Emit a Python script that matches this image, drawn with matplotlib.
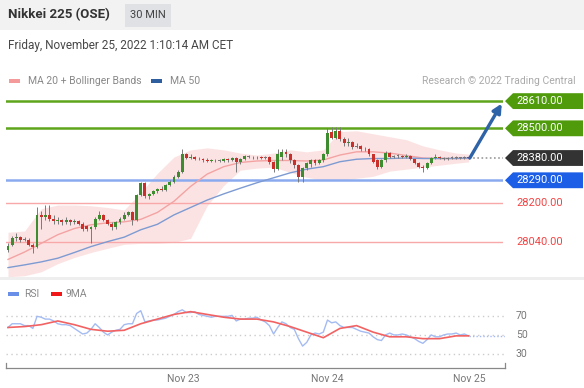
import matplotlib
matplotlib.use("Agg")
import matplotlib.pyplot as plt
import matplotlib.transforms as mtransforms
from matplotlib.patches import Polygon, Rectangle
import numpy as np

plt.rcParams['font.family'] = ['Roboto', 'DejaVu Sans']

# ---------------- data ----------------
opens = [28010, 28030, 28055, 28060, 28050, 28050, 28030, 28020, 28150, 28140,
         28150, 28135, 28125, 28130, 28120, 28130, 28120, 28125, 28115, 28105,
         28095, 28100, 28135, 28150, 28130, 28115, 28100, 28120, 28135, 28150,
         28160, 28130, 28230, 28280, 28225, 28235, 28245, 28255, 28250, 28270,
         28285, 28305, 28325, 28395, 28380, 28385, 28375, 28378, 28372, 28368,
         28372, 28370, 28368, 28375, 28370, 28380, 28365, 28375, 28388, 28385,
         28383, 28386, 28382, 28385, 28365, 28335, 28385, 28405, 28395, 28370,
         28350, 28305, 28340, 28355, 28370, 28360, 28370, 28395, 28485, 28460,
         28490, 28455, 28440, 28445, 28425, 28428, 28415, 28418, 28395, 28370,
         28345, 28370, 28400, 28385, 28388, 28390, 28386, 28388, 28375, 28360,
         28345, 28340, 28360, 28380, 28385, 28380, 28377, 28380, 28383, 28380,
         28382, 28385]
highs = [28035, 28065, 28075, 28065, 28060, 28055, 28035, 28180, 28165, 28190,
         28190, 28150, 28140, 28135, 28140, 28135, 28135, 28130, 28120, 28110,
         28105, 28140, 28165, 28155, 28135, 28120, 28125, 28140, 28160, 28165,
         28165, 28235, 28285, 28285, 28240, 28250, 28260, 28265, 28275, 28290,
         28310, 28330, 28415, 28400, 28395, 28390, 28385, 28382, 28380, 28378,
         28378, 28376, 28382, 28380, 28385, 28385, 28380, 28392, 28392, 28390,
         28390, 28390, 28390, 28388, 28368, 28415, 28415, 28415, 28400, 28375,
         28355, 28345, 28365, 28375, 28375, 28375, 28400, 28500, 28505, 28505,
         28505, 28465, 28460, 28450, 28440, 28432, 28425, 28420, 28398, 28375,
         28375, 28410, 28405, 28392, 28395, 28394, 28395, 28392, 28378, 28365,
         28350, 28365, 28385, 28395, 28390, 28386, 28385, 28388, 28388, 28386,
         28388, 28388]
lows = [28000, 28025, 28045, 28040, 28045, 28025, 27995, 28015, 28095, 28130,
        28125, 28115, 28115, 28110, 28115, 28110, 28112, 28108, 28085, 28085,
        28035, 28095, 28130, 28125, 28110, 28090, 28095, 28115, 28130, 28145,
        28110, 28125, 28225, 28220, 28215, 28230, 28240, 28245, 28245, 28265,
        28280, 28300, 28320, 28375, 28375, 28370, 28370, 28365, 28362, 28362,
        28365, 28362, 28365, 28365, 28366, 28322, 28355, 28370, 28380, 28378,
        28378, 28376, 28378, 28355, 28325, 28330, 28370, 28385, 28360, 28340,
        28282, 28285, 28330, 28345, 28352, 28355, 28365, 28390, 28455, 28455,
        28450, 28430, 28430, 28415, 28420, 28410, 28410, 28390, 28360, 28335,
        28340, 28365, 28380, 28380, 28382, 28380, 28382, 28370, 28355, 28340,
        28325, 28335, 28355, 28375, 28375, 28372, 28372, 28375, 28375, 28376,
        28376, 28374]
closes = [28025, 28055, 28060, 28050, 28052, 28030, 28020, 28150, 28140, 28150,
          28135, 28125, 28130, 28120, 28130, 28120, 28125, 28115, 28095, 28095,
          28100, 28135, 28150, 28130, 28115, 28100, 28120, 28135, 28150, 28160,
          28130, 28230, 28280, 28225, 28235, 28245, 28255, 28250, 28270, 28285,
          28305, 28325, 28395, 28380, 28385, 28375, 28378, 28370, 28368, 28372,
          28370, 28368, 28375, 28370, 28380, 28365, 28375, 28388, 28385, 28383,
          28386, 28382, 28385, 28365, 28335, 28395, 28405, 28395, 28370, 28350,
          28305, 28340, 28360, 28370, 28360, 28370, 28395, 28480, 28460, 28490,
          28455, 28440, 28445, 28425, 28428, 28415, 28418, 28395, 28365, 28345,
          28370, 28400, 28385, 28388, 28390, 28386, 28390, 28375, 28360, 28345,
          28340, 28360, 28380, 28385, 28380, 28377, 28380, 28383, 28380, 28382,
          28385, 28380]

# indicator samples (bar index -> value)
ind_idx = [0, 4, 8, 12, 16, 20, 24, 28, 32, 36, 40, 44, 48, 52, 56, 60, 64, 68,
           72, 76, 80, 84, 88, 92, 96, 100, 104, 108, 111]
ma50 = [27937, 27948, 27960, 27975, 27998, 28022, 28042, 28060, 28090, 28112,
        28150, 28180, 28210, 28235, 28258, 28280, 28300, 28320, 28335, 28345,
        28365, 28375, 28378, 28378, 28380, 28378, 28378, 28378, 28380]
ma20 = [27970, 28000, 28035, 28070, 28095, 28110, 28118, 28122, 28132, 28160,
        28205, 28265, 28315, 28345, 28362, 28368, 28370, 28370, 28368, 28372,
        28392, 28405, 28405, 28400, 28390, 28380, 28378, 28378, 28378]
bb_upper = [28080, 28085, 28175, 28190, 28190, 28187, 28180, 28170, 28240, 28318,
            28384, 28413, 28421, 28413, 28400, 28392, 28400, 28413, 28405, 28413,
            28487, 28490, 28478, 28466, 28454, 28429, 28413, 28400, 28396]
bb_lower = [27900, 27904, 27920, 27953, 27978, 27998, 28015, 28031, 28035, 28035,
            28039, 28055, 28187, 28269, 28331, 28339, 28343, 28322, 28302, 28290,
            28290, 28298, 28306, 28327, 28335, 28343, 28351, 28359, 28364]

rsi = [58, 62, 62, 62, 60, 60, 57, 70, 69, 67, 67, 65, 62, 61, 61, 60, 57, 54, 51, 52,
       56, 62, 58, 53, 50, 53, 55, 56, 61, 62, 62, 73, 76, 64, 65, 66, 66, 67, 68, 70,
       72, 75, 77, 74, 74, 75, 72, 71, 70, 69, 70, 70, 70, 70, 71, 65, 67, 67, 68, 68,
       69, 66, 64, 60, 51, 58, 64, 62, 58, 56, 46, 38, 42, 50, 52, 51, 53, 66, 63, 64,
       60, 58, 58, 58, 56, 54, 53, 52, 48, 45, 44, 50, 52, 50, 50, 51, 50, 48, 46, 43,
       41, 45, 50, 48, 48, 50, 51, 51, 52, 50, 51, 49]
rsi_ma9 = [58, 59, 61, 65, 61, 56, 54, 55, 62, 67, 72, 75, 72, 69, 67, 67, 64, 59,
           53, 47, 57, 60, 53, 48, 48, 46, 46, 49, 49]

levels_res = [28610, 28500]
level_last = 28380
level_sup = [28290, 28200, 28040]
day_ticks = [42.2, 76.9, 111.3]
day_labels = ["Nov 23", "Nov 24", "Nov 25"]

# ---------------- layout ----------------
W, H = 584, 388
fig = plt.figure(figsize=(W / 100, H / 100), dpi=100)
fig.patch.set_facecolor('white')

def fx(px):
    return px / W

def fy(py):
    return 1 - py / H

# header
fig.patches.append(Rectangle((0, fy(30)), 1, 30 / H, transform=fig.transFigure,
                             facecolor='#f2f2f2', edgecolor='none', zorder=0))
fig.patches.append(Rectangle((fx(125), fy(27)), 46 / W, 23 / H, transform=fig.transFigure,
                             facecolor='#dfe1e5', edgecolor='none', zorder=1))
fig.text(fx(8), fy(15), "Nikkei 225 (OSE)", fontsize=9.5, fontweight='bold',
         color='#333333', va='center', ha='left')
fig.text(fx(148), fy(15.5), "30 MIN", fontsize=8, color='#444444', va='center', ha='center')
fig.text(fx(8), fy(45), "Friday, November 25, 2022 1:10:14 AM CET", fontsize=8.5,
         color='#484848', va='center', ha='left')

# separator strip between panels
fig.patches.append(Rectangle((0, fy(280)), 1, 3 / H, transform=fig.transFigure,
                             facecolor='#eeeeee', edgecolor='none', zorder=0))

# main axes
ax = fig.add_axes([fx(6), fy(277), (503 - 6) / W, (277 - 65) / H])
ax.set_xlim(-0.48, 119.3)
ax.set_ylim(27899, 28756)
ax.axis('off')

x = np.arange(len(closes))
# Bollinger band & MAs
ax.fill_between(ind_idx, bb_lower, bb_upper, color='#fcdcdc', alpha=0.8, lw=0, zorder=1)
ax.plot(ind_idx, ma20, color='#f4a3a3', lw=1.0, zorder=2)
ax.plot(ind_idx, ma50, color='#7d9bd2', lw=1.0, zorder=2)

# levels
for lv in levels_res:
    ax.axhline(lv, color='#5ea51c', lw=1.8, zorder=1.5)
ax.axhline(level_sup[0], color='#8aaaf0', lw=1.8, zorder=1.5)
for lv in level_sup[1:]:
    ax.axhline(lv, color='#f8a8a8', lw=1.0, zorder=1.5)

# candles
o = np.array(opens); c = np.array(closes); hh = np.array(highs); ll = np.array(lows)
up = c >= o
ax.vlines(x, ll, hh, color='#7a7a7a', lw=0.7, zorder=3)
body_bottom = np.minimum(o, c)
body_h = np.maximum(np.abs(c - o), 3)
cols = np.where(up, '#3d8c2f', '#c9302c')
cols = np.where(np.abs(c - o) <= 3, '#777777', cols)
ax.bar(x, body_h, bottom=body_bottom, width=0.7, color=cols, lw=0, zorder=4)

# dotted line to last price label
ax.plot([x[-1], 119.3], [level_last, level_last], color='#9a9a9a', lw=1.2,
        ls=(0, (1, 1.5)), zorder=2, clip_on=False)

# arrow
ax.annotate('', xy=(119.0, 28600), xytext=(x[-1] + 0.3, level_last),
            arrowprops=dict(arrowstyle='-|>', color='#2e63a8', lw=2.4, mutation_scale=13,
                            shrinkA=0, shrinkB=0),
            annotation_clip=False, zorder=6)

# labels at right
blend = mtransforms.blended_transform_factory(fig.transFigure, ax.transData)
half = 32
def label_box(val, face, text_color='white'):
    pts = [(fx(505), val), (fx(513), val + half), (fx(583), val + half),
           (fx(583), val - half), (fx(513), val - half)]
    poly = Polygon(pts, closed=True, transform=blend, facecolor=face, edgecolor='none',
                   clip_on=False, zorder=5)
    fig.patches.append(poly)
    fig.text(fx(516), val, f"{val:.2f}", transform=blend, fontsize=8, color=text_color,
             va='center', ha='left', zorder=7)

for lv in levels_res:
    label_box(lv, '#4f9b0c')
label_box(level_last, '#333333')
label_box(level_sup[0], '#1d5ee6')
for lv in level_sup[1:]:
    fig.text(fx(516), lv, f"{lv:.2f}", transform=blend, fontsize=8, color='#f04545',
             va='center', ha='left', zorder=7)

# legend main
fig.patches.append(Rectangle((fx(9), fy(83)), 11 / W, 4 / H, transform=fig.transFigure,
                             facecolor='#f59a9a', edgecolor='none'))
fig.text(fx(28), fy(81), "MA 20 + Bollinger Bands", fontsize=7.5, color='#888888',
         va='center', ha='left')
fig.patches.append(Rectangle((fx(151), fy(83)), 11 / W, 4 / H, transform=fig.transFigure,
                             facecolor='#2f5e9e', edgecolor='none'))
fig.text(fx(170), fy(81), "MA 50", fontsize=7.5, color='#888888', va='center', ha='left')
fig.text(fx(576), fy(81), "Research \u00a9 2022 Trading Central", fontsize=7.5,
         color='#aaaaaa', va='center', ha='right')

# RSI axes
ax2 = fig.add_axes([fx(6), fy(368), (505 - 6) / W, (368 - 300) / H])
ax2.set_xlim(-0.48, 119.3 * (505 - 6) / (503 - 6) - 0.48 * (1 - (505 - 6) / (503 - 6)))
ax2.set_ylim(14.5, 87.5)
for s in ['top', 'left', 'right']:
    ax2.spines[s].set_visible(False)
ax2.spines['bottom'].set_color('#888888')
ax2.spines['bottom'].set_linewidth(0.9)
ax2.set_yticks([])
ax2.set_xticks(day_ticks)
ax2.set_xticklabels(day_labels, fontsize=7.5, color='#777777')
ax2.tick_params(axis='x', length=0, pad=4)
for lv in [70, 50, 30]:
    ax2.axhline(lv, color='#cccccc', lw=1.0, ls=(0, (1, 2.5)), zorder=1)
# end ticks of bracket
xl = ax2.get_xlim()
for xe in xl:
    ax2.plot([xe, xe], [14.5, 19.5], color='#888888', lw=0.9, clip_on=False)
ax2.plot(x, rsi, color='#a4bbf2', lw=1.0, zorder=3)
ax2.plot([x[-1], xl[1]], [rsi[-1], rsi[-1]], color='#a4bbf2', lw=1.0,
         ls=(0, (1, 1.5)), zorder=3)
ax2.plot(ind_idx, rsi_ma9, color='#f26262', lw=1.2, zorder=4)

rblend = mtransforms.blended_transform_factory(fig.transFigure, ax2.transData)
for lv in [70, 50, 30]:
    fig.text(fx(516), lv, str(lv), transform=rblend, fontsize=7.5, color='#777777',
             va='center', ha='left')

# RSI legend
fig.patches.append(Rectangle((fx(8), fy(296)), 11 / W, 4 / H, transform=fig.transFigure,
                             facecolor='#6a8fe8', edgecolor='none'))
fig.text(fx(24), fy(294), "RSI", fontsize=7.5, color='#888888', va='center', ha='left')
fig.patches.append(Rectangle((fx(51), fy(296)), 11 / W, 4 / H, transform=fig.transFigure,
                             facecolor='#f01818', edgecolor='none'))
fig.text(fx(66), fy(294), "9MA", fontsize=7.5, color='#888888', va='center', ha='left')

fig.savefig('out.png', dpi=100)
